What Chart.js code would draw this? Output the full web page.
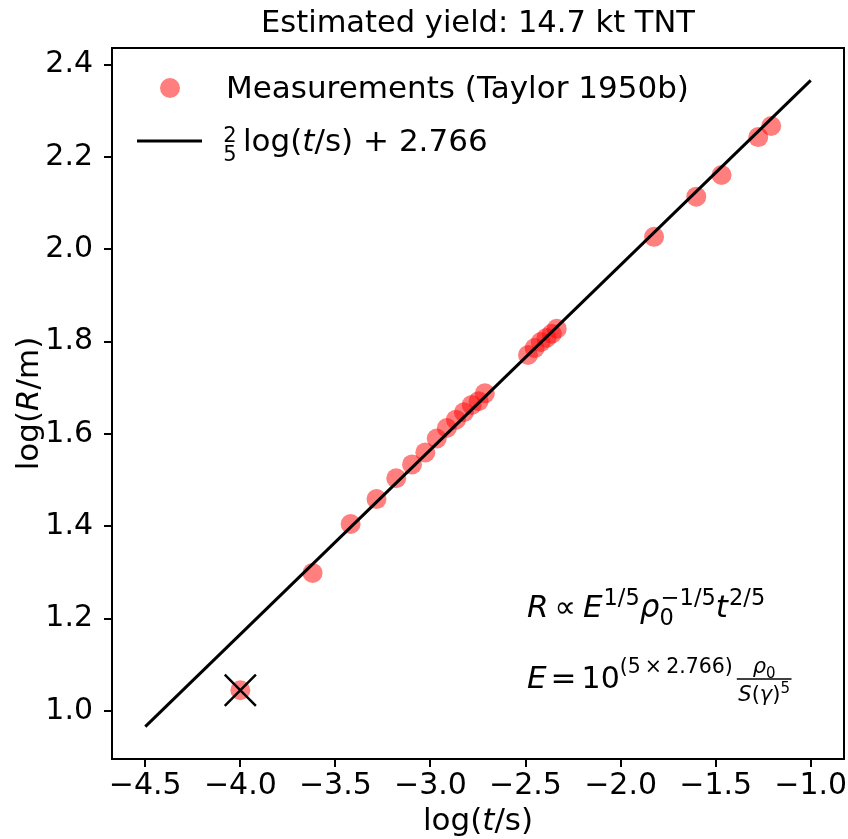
<!DOCTYPE html>
<html>
<head>
<meta charset="utf-8">
<script src="https://cdn.jsdelivr.net/npm/chart.js@4/dist/chart.umd.min.js"></script>
<style>
  body { margin: 0; background: #fff; }
  canvas { display: block; }
</style>
</head>
<body>
<canvas id="taylorChart" width="848" height="839"></canvas>
<script>
// Taylor (1950b) Trinity fireball radius vs time, log10 values
const logT = [-4.000, -3.620, -3.420, -3.284, -3.180, -3.097, -3.027, -2.967, -2.914, -2.866,
              -2.824, -2.783, -2.747, -2.714, -2.487, -2.452, -2.420, -2.390, -2.362, -2.336,
              -1.824, -1.602, -1.469, -1.276, -1.208];
const logR = [1.045, 1.299, 1.405, 1.459, 1.504, 1.534, 1.560, 1.590, 1.613, 1.631,
              1.647, 1.663, 1.671, 1.688, 1.771, 1.786, 1.799, 1.808, 1.817, 1.828,
              2.027, 2.114, 2.161, 2.243, 2.267];

// fitted line end points and the excluded first point
const fitX = [-4.5, -1.0];
const fitY = [0.966, 2.366];
const excludedX = [-4.0];
const excludedY = [1.045];

const xTicks = [-4.5, -4.0, -3.5, -3.0, -2.5, -2.0, -1.5, -1.0];
const yTicks = [1.0, 1.2, 1.4, 1.6, 1.8, 2.0, 2.2, 2.4];

const FONT = '"DejaVu Sans", sans-serif';
const pts = (xs, ys) => xs.map((x, i) => ({ x: x, y: ys[i] }));
const fmt = v => v.toFixed(1).replace('-', '\u2212');

// draws a run of text segments, returns end x
function drawRich(ctx, x, y, segs, measureOnly) {
    let cx = x;
    segs.forEach(s => {
        ctx.font = (s.it ? 'italic ' : '') + s.size + 'px ' + FONT;
        if (!measureOnly) ctx.fillText(s.t, cx, y + (s.dy || 0));
        cx += ctx.measureText(s.t).width + (s.gap || 0);
    });
    return cx;
}

const decor = {
    id: 'decor',
    beforeDraw(chart) {
        const ctx = chart.ctx;
        ctx.save();
        ctx.fillStyle = '#fff';
        ctx.fillRect(0, 0, chart.width, chart.height);
        ctx.restore();
    },
    afterDraw(chart) {
        const ctx = chart.ctx;
        const a = chart.chartArea;
        const midX = (a.left + a.right) / 2;
        ctx.save();
        ctx.fillStyle = '#000';
        ctx.textBaseline = 'alphabetic';

        // frame
        ctx.strokeStyle = '#000';
        ctx.lineWidth = 2;
        ctx.strokeRect(a.left, a.top, a.right - a.left, a.bottom - a.top);

        // x tick labels (drawn here so they don't shrink the plot area)
        ctx.textAlign = 'center';
        ctx.font = '30px ' + FONT;
        xTicks.forEach(v => ctx.fillText(fmt(v), chart.scales.x.getPixelForValue(v), 794));

        // title
        ctx.font = '30.5px ' + FONT;
        ctx.fillText('Estimated yield: 14.7 kt TNT', midX, 32);

        // x label
        ctx.textAlign = 'left';
        const xl = [{ t: 'log(', size: 31 }, { t: 't', it: true, size: 31 }, { t: '/s)', size: 31 }];
        const xw = drawRich(ctx, 0, 0, xl, true);
        drawRich(ctx, midX - xw / 2, 830, xl);

        // y label
        const yl = [{ t: 'log(', size: 31 }, { t: 'R', it: true, size: 31 }, { t: '/m)', size: 31 }];
        const yw = drawRich(ctx, 0, 0, yl, true);
        ctx.save();
        ctx.translate(38, (a.top + a.bottom) / 2);
        ctx.rotate(-Math.PI / 2);
        drawRich(ctx, -yw / 2, 0, yl);
        ctx.restore();

        // legend
        ctx.fillStyle = 'rgba(255,0,0,0.5)';
        ctx.beginPath();
        ctx.arc(170, 88, 10, 0, Math.PI * 2);
        ctx.fill();
        ctx.fillStyle = '#000';
        ctx.font = '31px ' + FONT;
        ctx.fillText('Measurements (Taylor 1950b)', 226, 98);
        ctx.lineWidth = 3;
        ctx.beginPath();
        ctx.moveTo(137, 141);
        ctx.lineTo(202, 141);
        ctx.stroke();
        ctx.font = '21px ' + FONT;
        ctx.textAlign = 'center';
        ctx.fillText('2', 230, 142);
        ctx.fillText('5', 230, 161);
        ctx.textAlign = 'left';
        drawRich(ctx, 243, 151, [{ t: 'log(', size: 31 }, { t: 't', it: true, size: 31 }, { t: '/s) + 2.766', size: 31 }]);

        // scaling-law annotations
        drawRich(ctx, 527, 617, [
            { t: 'R', it: true, size: 31, gap: 6 },
            { t: '\u221D', size: 30, gap: 7 },
            { t: 'E', it: true, size: 31, gap: 1 },
            { t: '1/5', size: 22.5, dy: -12 },
            { t: '\u03C1', it: true, size: 31 },
            { t: '0', size: 22.5, dy: 8, gap: -13 },
            { t: '\u22121/5', size: 22.5, dy: -12 },
            { t: 't', it: true, size: 31, gap: 1 },
            { t: '2/5', size: 22.5, dy: -12 }
        ]);
        let ex = drawRich(ctx, 527, 688, [
            { t: 'E', it: true, size: 31, gap: 4 },
            { t: '=', size: 31, gap: 5 },
            { t: '10', size: 30 },
            { t: '(5\u2009\u00D7\u20092.766)', size: 20.5, dy: -15, gap: 4 }
        ]);
        const num = [{ t: '\u03C1', it: true, size: 21 }, { t: '0', size: 15, dy: 5 }];
        const den = [{ t: 'S', it: true, size: 21 }, { t: '(', size: 21 }, { t: '\u03B3', it: true, size: 21 },
                     { t: ')', size: 21 }, { t: '5', size: 15, dy: -8 }];
        const nw = drawRich(ctx, 0, 0, num, true);
        const dw = drawRich(ctx, 0, 0, den, true);
        const fw = Math.max(nw, dw) + 3;
        drawRich(ctx, ex + (fw - nw) / 2, 673, num);
        drawRich(ctx, ex + (fw - dw) / 2, 701, den);
        ctx.lineWidth = 1.5;
        ctx.beginPath();
        ctx.moveTo(ex, 679);
        ctx.lineTo(ex + fw, 679);
        ctx.stroke();

        ctx.restore();
    }
};

new Chart(document.getElementById('taylorChart'), {
    type: 'scatter',
    data: {
        datasets: [
            {
                label: 'fit',
                data: pts(fitX, fitY),
                showLine: true,
                borderColor: '#000',
                borderWidth: 3,
                pointRadius: 0,
                order: 0
            },
            {
                label: 'excluded',
                data: pts(excludedX, excludedY),
                pointStyle: 'crossRot',
                pointRadius: 22,
                borderColor: '#000',
                borderWidth: 2.5,
                order: 1
            },
            {
                label: 'Measurements (Taylor 1950b)',
                data: pts(logT, logR),
                pointRadius: 10,
                backgroundColor: 'rgba(255,0,0,0.5)',
                borderWidth: 0,
                order: 2
            }
        ]
    },
    options: {
        responsive: false,
        animation: false,
        layout: { autoPadding: false, padding: { top: 48, right: 4, left: 0, bottom: 0 } },
        plugins: { legend: { display: false }, title: { display: false }, tooltip: { enabled: false } },
        scales: {
            x: {
                type: 'linear',
                min: -4.675,
                max: -0.825,
                afterBuildTicks: s => { s.ticks = xTicks.map(v => ({ value: v })); },
                afterFit: s => { s.height = 80; },
                ticks: { display: false },
                grid: { drawOnChartArea: false, tickLength: 8, color: '#000', lineWidth: 2 },
                border: { color: '#000', width: 2 }
            },
            y: {
                type: 'linear',
                min: 0.896,
                max: 2.436,
                afterBuildTicks: s => { s.ticks = yTicks.map(v => ({ value: v })); },
                afterFit: s => { s.width = 112; },
                ticks: { callback: v => fmt(v), color: '#000', font: { family: FONT, size: 30 }, padding: 11, autoSkip: false },
                grid: { drawOnChartArea: false, tickLength: 8, color: '#000', lineWidth: 2 },
                border: { color: '#000', width: 2 }
            }
        }
    },
    plugins: [decor]
});
</script>
</body>
</html>
